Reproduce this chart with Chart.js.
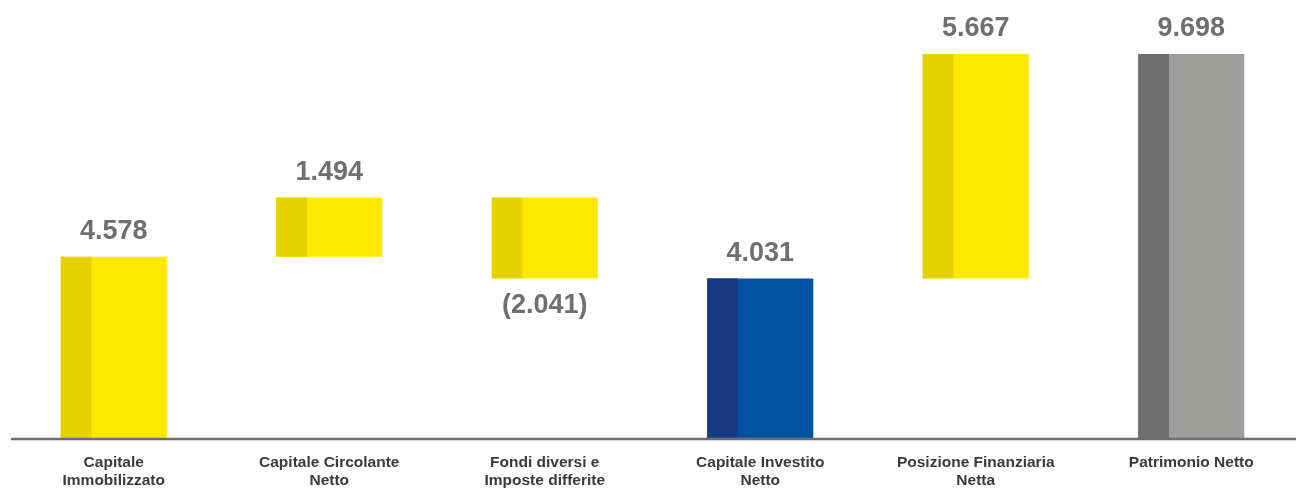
<!DOCTYPE html>
<html>
<head>
<meta charset="utf-8">
<script src="https://cdn.jsdelivr.net/npm/chart.js@4/dist/chart.umd.min.js"></script>
<style>
  html, body { margin: 0; padding: 0; background: #ffffff; overflow: hidden; }
  #wrap { position: relative; width: 1299px; height: 498px; }
</style>
</head>
<body>
<div id="wrap"><canvas id="chart"></canvas></div>
<script>
// Bridge from fixed capital to shareholders' equity (thousands)
const categories = [
  ['Capitale', 'Immobilizzato'],
  ['Capitale Circolante', 'Netto'],
  ['Fondi diversi e', 'Imposte differite'],
  ['Capitale Investito', 'Netto'],
  ['Posizione Finanziaria', 'Netta'],
  ['Patrimonio Netto']
];
const amounts = [4578, 1494, -2041, 4031, 5667, 9698];
// 'step' bars move the running total, 'total' bars stand on zero
const barKinds = ['step', 'step', 'step', 'total', 'step', 'total'];
const mainColors = ['#FFE800', '#FFE800', '#FFE800', '#0051A0', '#FFE800', '#9D9D9C'];
const shadeColors = ['#E6D100', '#E6D100', '#E6D100', '#183A82', '#E6D100', '#6E6E6E'];

// Floating [start, end] ranges built from the amounts
const ranges = [];
let running = 0;
amounts.forEach((v, i) => {
  if (barKinds[i] === 'total') {
    ranges.push([0, v]);
    running = v;
  } else {
    ranges.push([running, running + v]);
    running += v;
  }
});

function formatAmount(v) {
  const s = Math.abs(v).toLocaleString('it-IT');
  return v < 0 ? '(' + s + ')' : s;
}

// Darker left strip on each bar
const shadePlugin = {
  id: 'shadeStrip',
  afterDatasetsDraw(chart) {
    const ctx = chart.ctx;
    const meta = chart.getDatasetMeta(0);
    ctx.save();
    meta.data.forEach((bar, i) => {
      const p = bar.getProps(['x', 'y', 'base', 'width'], true);
      const top = Math.min(p.y, p.base);
      const h = Math.abs(p.base - p.y);
      ctx.fillStyle = shadeColors[i];
      ctx.fillRect(p.x - p.width / 2, top, p.width * 0.29, h);
    });
    ctx.restore();
  }
};

// Value labels above (or below, for negatives) each bar, plus the base line
const labelPlugin = {
  id: 'valueLabels',
  afterDraw(chart) {
    const ctx = chart.ctx;
    const meta = chart.getDatasetMeta(0);
    const area = chart.chartArea;
    const zeroY = chart.scales.y.getPixelForValue(0);
    ctx.save();
    ctx.strokeStyle = '#6E6E6E';
    ctx.lineWidth = 2.5;
    ctx.beginPath();
    ctx.moveTo(area.left + 5, zeroY + 1);
    ctx.lineTo(chart.width, zeroY + 1);
    ctx.stroke();

    ctx.font = 'bold 27px "Liberation Sans", Arial, sans-serif';
    ctx.fillStyle = '#6F6F6F';
    ctx.textAlign = 'center';
    ctx.textBaseline = 'middle';
    meta.data.forEach((bar, i) => {
      const p = bar.getProps(['x', 'y', 'base'], true);
      const v = amounts[i];
      if (v < 0) {
        ctx.fillText(formatAmount(v), p.x, Math.max(p.y, p.base) + 27);
      } else {
        ctx.fillText(formatAmount(v), p.x, Math.min(p.y, p.base) - 25);
      }
    });
    ctx.restore();
  }
};

new Chart(document.getElementById('chart'), {
  type: 'bar',
  data: {
    labels: categories,
    datasets: [{
      data: ranges,
      backgroundColor: mainColors,
      borderWidth: 0,
      categoryPercentage: 0.7,
      barPercentage: 0.703
    }]
  },
  options: {
    responsive: true,
    maintainAspectRatio: false,
    animation: false,
    layout: { padding: { top: 42, left: 6, right: 0, bottom: 0 } },
    plugins: {
      legend: { display: false },
      tooltip: { enabled: false }
    },
    scales: {
      x: {
        grid: { display: false },
        border: { display: false },
        ticks: {
          color: '#3A3A3A',
          padding: 8,
          maxRotation: 0,
          autoSkip: false,
          font: { family: '"Liberation Sans", Arial, sans-serif', size: 15.5, weight: 'bold', lineHeight: 1.16 }
        }
      },
      y: {
        display: false,
        min: 0,
        max: 10000
      }
    }
  },
  plugins: [shadePlugin, labelPlugin]
});
</script>
</body>
</html>
